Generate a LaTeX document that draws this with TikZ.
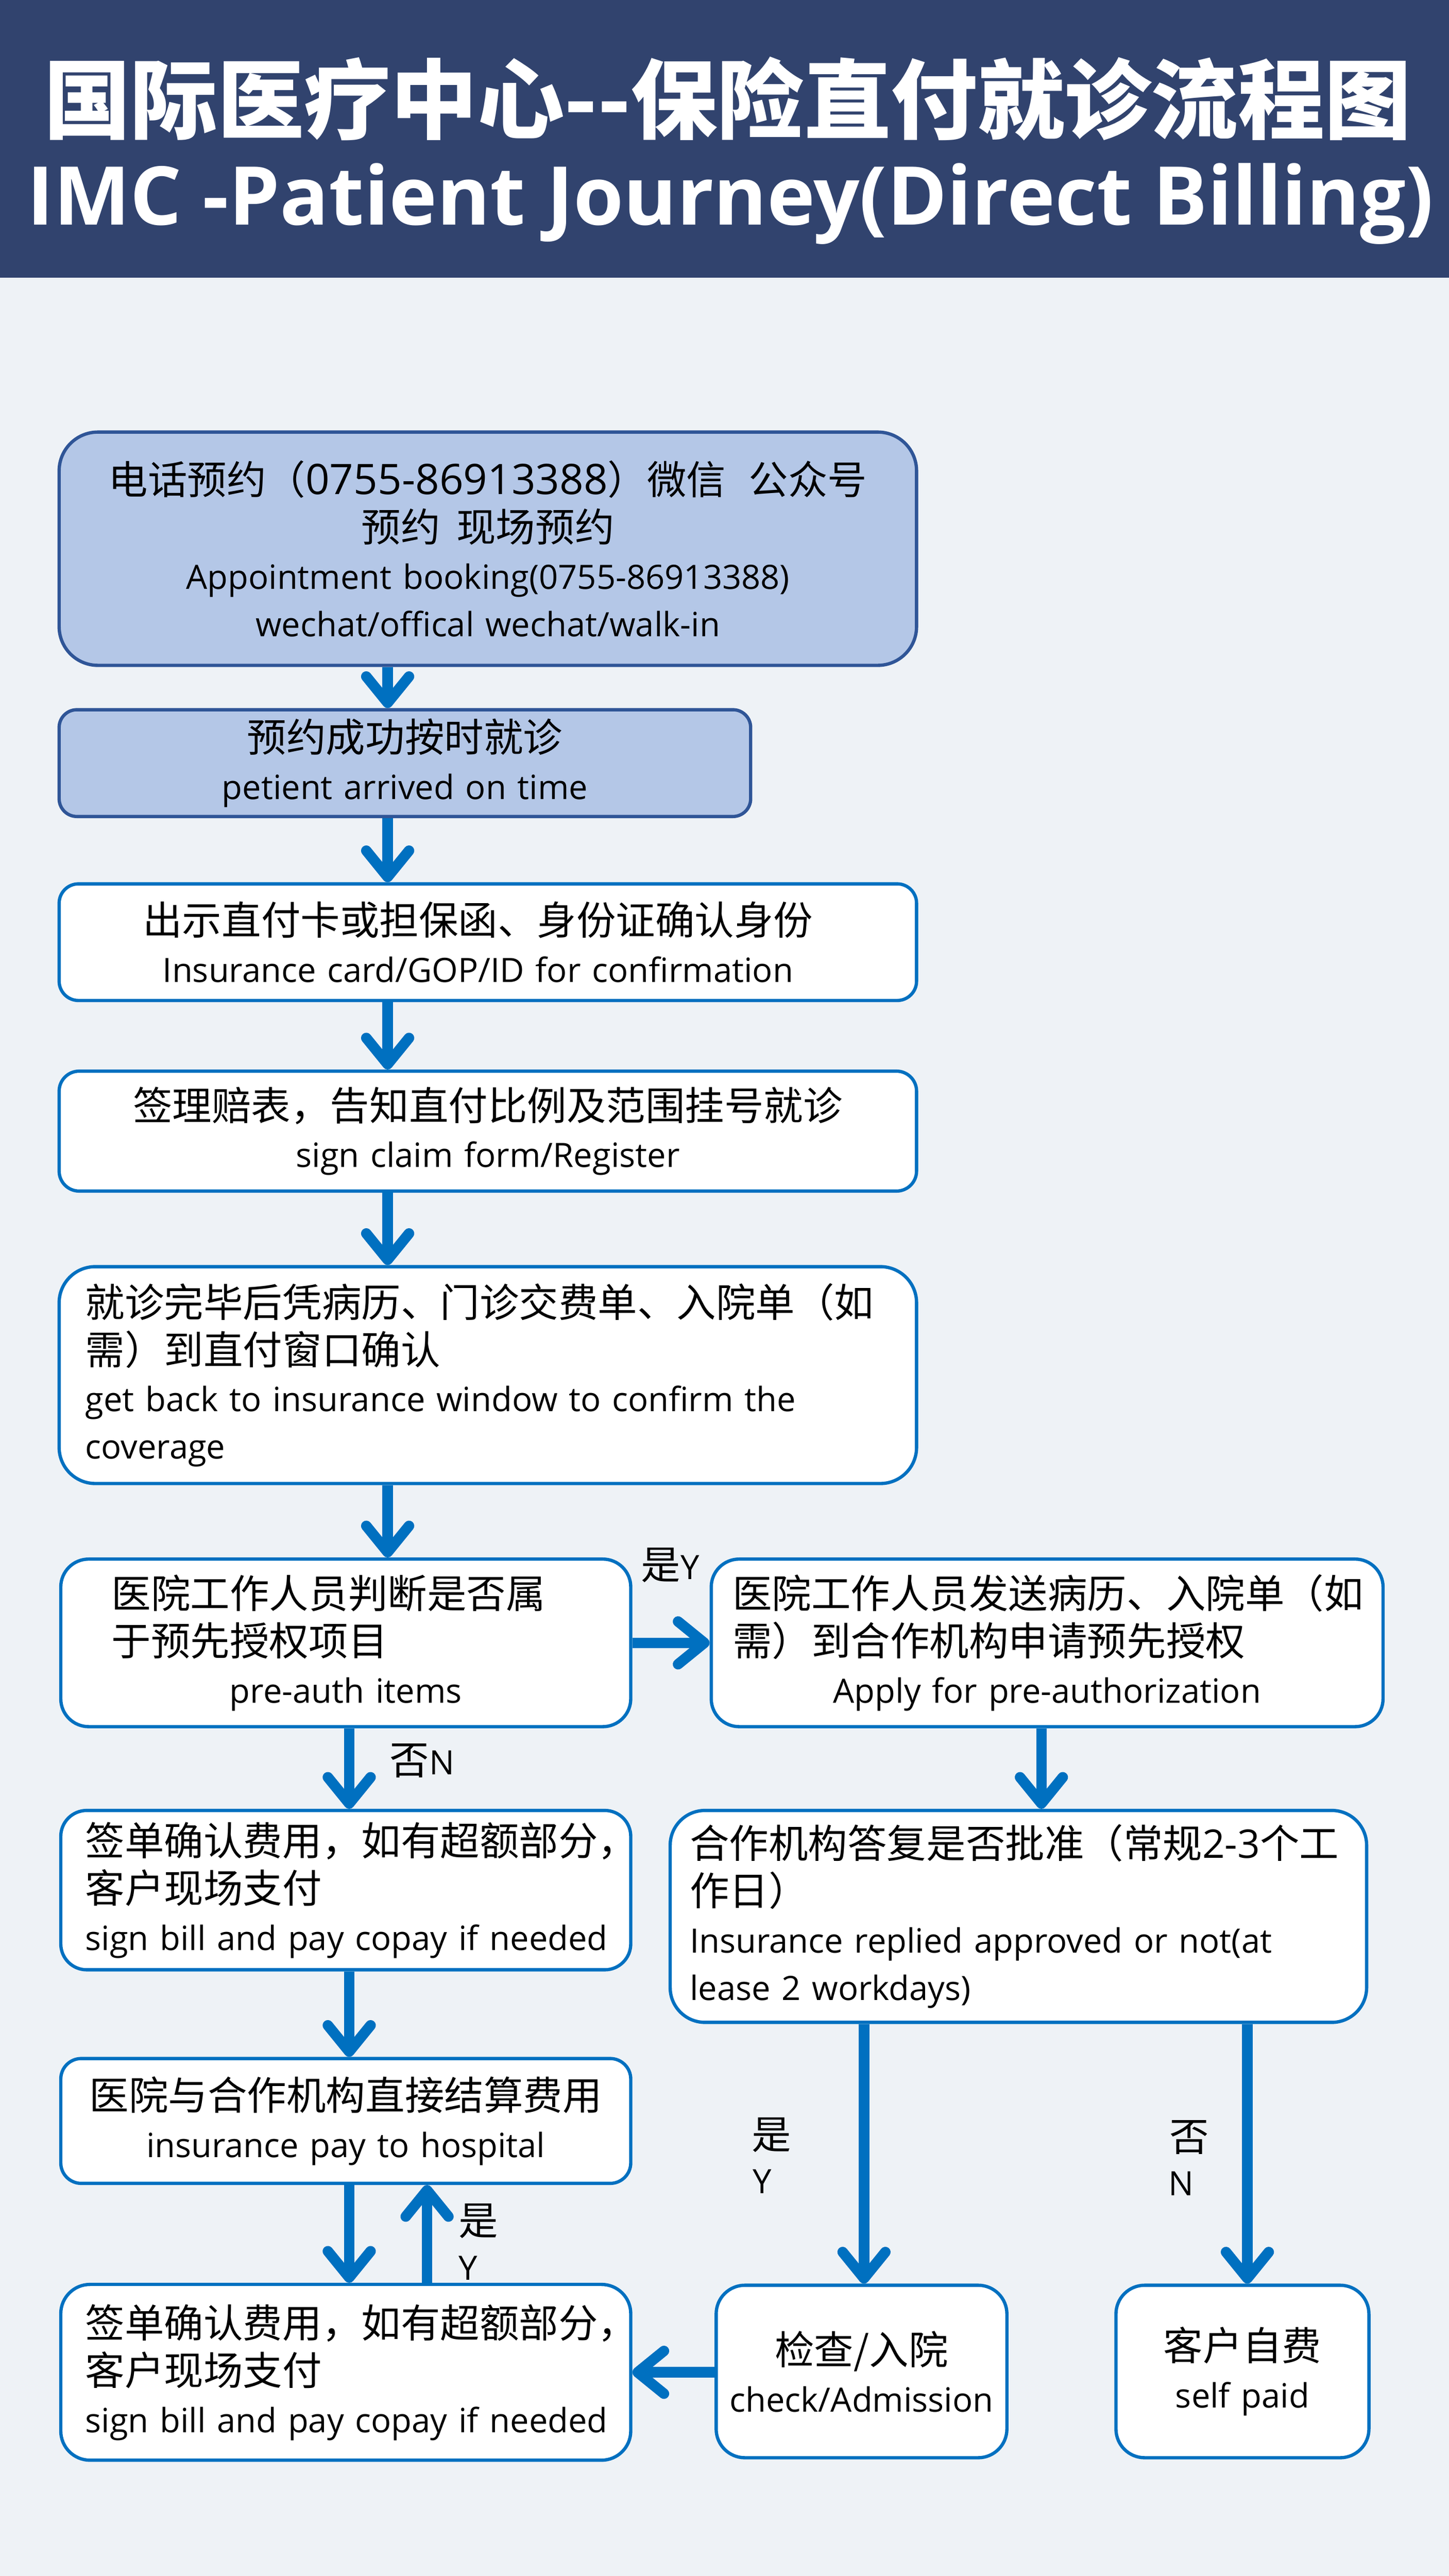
\documentclass[tikz,border=0pt]{standalone}
\usepackage{fontspec}
\setmainfont{Open Sans}
\newfontfamily\cjk{Noto Sans CJK SC}
\usetikzlibrary{arrows.meta}
\definecolor{hdr}{RGB}{49,67,110}
\definecolor{bg}{RGB}{238,242,246}
\definecolor{lb}{RGB}{180,199,231}
\definecolor{db}{RGB}{47,85,151}
\definecolor{ab}{RGB}{0,112,192}
\newcommand\zh[1]{{\cjk\fontsize{12}{14.4}\selectfont #1}}
\newcommand\linec[2][0pt]{\makebox[\linewidth][c]{#2\hspace*{#1}}}
\newcommand\linel[2][0pt]{\makebox[\linewidth][l]{\hspace*{#1}#2}}
\tikzset{
  wbox/.style={draw=ab, fill=white, line width=1pt, inner sep=0pt, align=left,
    font=\fontsize{10.2}{14.4}\selectfont},
  bbox/.style={wbox, draw=db, fill=lb},
  arr/.style={draw=ab, line width=3.2pt, -{Straight Barb[length=8pt,width=13pt,round]}},
  lab/.style={inner sep=0pt, font=\fontsize{10.2}{12}\selectfont},
}
\begin{document}
\begin{tikzpicture}[x=1pt,y=1pt]
\useasboundingbox (0,0) rectangle (441,-784);
\fill[bg] (0,0) rectangle (441,-784);
\fill[hdr] (0,0) rectangle (441,-84.5);
\node[font=\cjk\bfseries\fontsize{26.4}{30}\selectfont, text=white] (t1) at (221.5,-30) {国际医疗中心--保险直付就诊流程图};
\node[font=\bfseries\fontsize{24.7}{30}\selectfont, text=white, anchor=base] (t2) at (222.25,-68.5) {IMC -Patient Journey(Direct Billing)};

\node[bbox, rounded corners=11.8pt, minimum width=261pt, minimum height=71pt, text width=261pt] (A) at (148.5,-167)
 {\linec{\zh{电话预约（{\rmfamily\fontsize{12.8}{14.4}\selectfont 0755-86913388}）微信\hspace{7pt}公众号}}\\
  \linec{\zh{预约\hspace{5pt}现场预约}}\\
  \linec{Appointment booking(0755-86913388)}\\
  \linec{wechat/offical wechat/walk-in}};
\node[bbox, rounded corners=5.4pt, minimum width=210.5pt, minimum height=32.5pt, text width=210.5pt] (B) at (123.25,-232.25)
 {\linec{\zh{预约成功按时就诊}}\\
  \linec{petient arrived on time}};
\node[wbox, rounded corners=5.9pt, minimum width=261pt, minimum height=35.5pt, text width=261pt] (C) at (148.5,-286.75)
 {\linec[6pt]{\zh{出示直付卡或担保函、身份证确认身份}}\\
  \linec[6pt]{Insurance card/GOP/ID for confirmation}};
\node[wbox, rounded corners=6.1pt, minimum width=261pt, minimum height=36.5pt, text width=261pt] (D) at (148.5,-344.25)
 {\linec{\zh{签理赔表，告知直付比例及范围挂号就诊}}\\
  \linec{sign claim form/Register}};
\node[wbox, rounded corners=11pt, minimum width=261pt, minimum height=66pt, text width=261pt] (E) at (148.5,-418.5)
 {\linel[8pt]{\zh{就诊完毕后凭病历、门诊交费单、入院单（如}}\\
  \linel[8pt]{\zh{需）到直付窗口确认}}\\
  \linel[8pt]{get back to insurance window to confirm the}\\
  \linel[8pt]{coverage}};
\node[wbox, rounded corners=8.5pt, minimum width=173.5pt, minimum height=51pt, text width=173.5pt] (F) at (105.25,-500)
 {\linel[15.5pt]{\zh{医院工作人员判断是否属}}\\
  \linel[15.5pt]{\zh{于预先授权项目}}\\
  \linec{pre-auth items}};
\node[wbox, rounded corners=8.5pt, minimum width=204.5pt, minimum height=51pt, text width=204.5pt] (G) at (318.75,-500)
 {\linel[6.5pt]{\zh{医院工作人员发送病历、入院单（如}}\\
  \linel[6.5pt]{\zh{需）到合作机构申请预先授权}}\\
  \linec{Apply for pre-authorization}};
\node[wbox, rounded corners=7.9pt, minimum width=173.5pt, minimum height=48.5pt, text width=173.5pt] (H) at (105.25,-575.25)
 {\linel[7.5pt]{\zh{签单确认费用，如有超额部分，}}\\
  \linel[7.5pt]{\zh{客户现场支付}}\\
  \linel[7.5pt]{sign bill and pay copay if needed}};
\node[wbox, rounded corners=10.6pt, minimum width=212pt, minimum height=64.5pt, text width=212pt] (I) at (310,-583.25)
 {\linel[6pt]{\zh{合作机构答复是否批准（常规{\rmfamily 2-3}个工}}\\
  \linel[6pt]{\zh{作日）}}\\
  \linel[6pt]{Insurance replied approved or not(at}\\
  \linel[6pt]{lease 2 workdays)}};
\node[wbox, rounded corners=6.25pt, minimum width=173.5pt, minimum height=38pt, text width=173.5pt] (J) at (105.25,-645.5)
 {\linec{\zh{医院与合作机构直接结算费用}}\\
  \linec{insurance pay to hospital}};
\node[wbox, rounded corners=8.9pt, minimum width=173.5pt, minimum height=53.5pt, text width=173.5pt] (K) at (105.25,-722)
 {\linel[7.5pt]{\zh{签单确认费用，如有超额部分，}}\\
  \linel[7.5pt]{\zh{客户现场支付}}\\
  \linel[7.5pt]{sign bill and pay copay if needed}};
\node[wbox, rounded corners=8.75pt, minimum width=88.5pt, minimum height=52.5pt, text width=88.5pt] (L) at (262.25,-721.75)
 {\linec{\zh{检查/入院}}\\
  \linec{check/Admission}};
\node[wbox, rounded corners=8.75pt, minimum width=77pt, minimum height=52.5pt, text width=77pt] (M) at (378.2,-721.75)
 {\linec{\zh{客户自费}}\\
  \linec{self paid}};

\node[lab] (yA) at (204,-476.4) {\zh{是}Y};
\node[lab] (nA) at (128.5,-535.8) {\zh{否}N};
\node[lab] (yB) at (234.9,-649.8) {\zh{是}};
\node[lab] (yB2) at (232,-664) {Y};
\node[lab] (nB) at (362,-650.5) {\zh{否}};
\node[lab] (nB2) at (359.5,-664.5) {N};
\node[lab] (yC) at (145.7,-676) {\zh{是}};
\node[lab] (yC2) at (142.5,-690.3) {Y};

\coordinate (c1) at (118,0);
\coordinate (c2) at (106.3,0);
\coordinate (c3) at (130,0);
\coordinate (c4) at (317,0);
\coordinate (c5) at (263,0);
\coordinate (c6) at (379.7,0);
\coordinate (r) at (0,-722);

\draw[arr] (A.south -| c1) -- (B.north -| c1);
\draw[arr] (B.south -| c1) -- (C.north -| c1);
\draw[arr] (C.south -| c1) -- (D.north -| c1);
\draw[arr] (D.south -| c1) -- (E.north -| c1);
\draw[arr] (E.south -| c1) -- (F.north -| c1);
\draw[arr] (F.east) -- (G.west);
\draw[arr] (F.south -| c2) -- (H.north -| c2);
\draw[arr] (G.south -| c4) -- (I.north -| c4);
\draw[arr] (H.south -| c2) -- (J.north -| c2);
\draw[arr] (J.south -| c2) -- (K.north -| c2);
\draw[arr] (K.north -| c3) -- (J.south -| c3);
\draw[arr] (I.south -| c5) -- (L.north -| c5);
\draw[arr] (I.south -| c6) -- (M.north -| c6);
\draw[arr] (L.west |- r) -- (K.east |- r);
\end{tikzpicture}
\end{document}
